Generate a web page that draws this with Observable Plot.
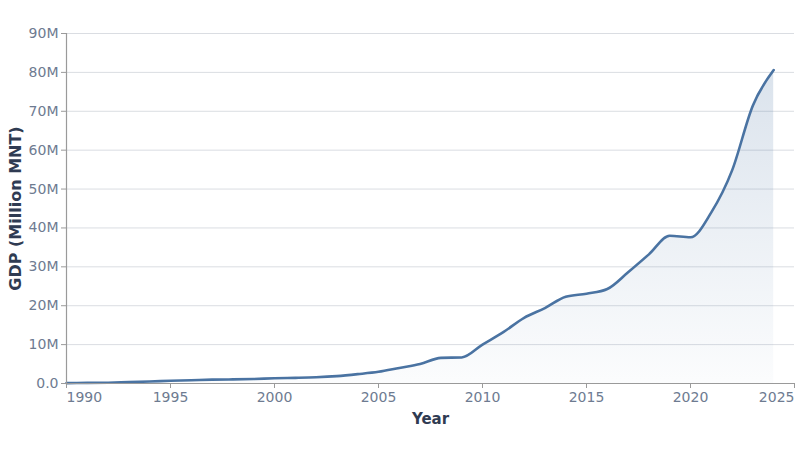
<!DOCTYPE html>
<html>
<head>
<meta charset="utf-8">
<script src="https://cdn.jsdelivr.net/npm/d3@7"></script>
<script src="https://cdn.jsdelivr.net/npm/@observablehq/plot@0.6"></script>
<style>
  html, body { margin: 0; padding: 0; background: #fff; }
  #chart svg { font-family: "DejaVu Sans", sans-serif; }
</style>
</head>
<body>
<div id="chart"></div>
<script>
const years = [1990,1991,1992,1993,1994,1995,1996,1997,1998,1999,2000,2001,2002,2003,2004,2005,2006,2007,2008,2009,2010,2011,2012,2013,2014,2015,2016,2017,2018,2019,2020,2021,2022,2023,2024];
// GDP in million MNT, expressed in millions (M)
const gdpM = [0.1,0.15,0.2,0.35,0.5,0.7,0.85,1.0,1.05,1.15,1.35,1.45,1.6,1.9,2.4,3.0,4.0,5.0,6.6,6.7,10.0,13.2,16.9,19.4,22.3,23.1,24.3,28.6,33.2,38.0,37.6,44.0,54.8,71.5,80.6];
const yTicks = [0,10,20,30,40,50,60,70,80,90];
const xTicksInner = [1995,2000,2005,2010,2015,2020];
const xLabel = "Year";
const yLabel = "GDP (Million MNT)";

const data = years.map((y, i) => ({year: y, gdp: gdpM[i]}));
const fmtY = d => d === 0 ? "0.0" : d + "M";
const tickColor = "#6e7b91";

const plot = Plot.plot({
  width: 800,
  height: 450,
  marginTop: 33,
  marginBottom: 67,
  marginLeft: 66,
  marginRight: 6,
  style: {fontFamily: "DejaVu Sans, sans-serif", fontSize: "14px", background: "#fff"},
  x: {domain: [1990, 2025], axis: null},
  y: {domain: [0, 90], axis: null},
  marks: [
    Plot.gridY(yTicks, {stroke: "#dadde2", strokeOpacity: 1}),
    Plot.areaY(data, {x: "year", y: "gdp", curve: "monotone-x", fill: "url(#gdpGrad)"}),
    Plot.lineY(data, {x: "year", y: "gdp", curve: "monotone-x", stroke: "#4a73a2", strokeWidth: 2.6}),
    Plot.ruleX([1990], {stroke: "#9a9a9a", strokeWidth: 1.2}),
    Plot.ruleY([0], {stroke: "#9a9a9a", strokeWidth: 1.2}),
    Plot.axisY(yTicks, {tickFormat: fmtY, tickSize: 5, tickPadding: 3, stroke: "#9a9a9a", fill: tickColor, label: null}),
    Plot.axisX(xTicksInner, {tickFormat: "d", tickSize: 5, tickPadding: 4, stroke: "#9a9a9a", fill: tickColor, label: null}),
    Plot.axisX([1990], {tickFormat: "d", tickSize: 5, tickPadding: 4, stroke: "#9a9a9a", fill: tickColor, textAnchor: "start", label: null}),
    Plot.axisX([2025], {tickFormat: "d", tickSize: 5, tickPadding: 4, stroke: "#9a9a9a", fill: tickColor, textAnchor: "end", label: null}),
    Plot.text([xLabel], {frameAnchor: "bottom", dy: 40, fontWeight: "bold", fontSize: 15, fill: "#2f3b52"}),
    Plot.text([yLabel], {frameAnchor: "left", textAnchor: "middle", rotate: -90, dx: -51, fontWeight: "bold", fontSize: 16, fill: "#2f3b52"})
  ]
});

const svg = d3.select(plot);
const defs = svg.insert("defs", ":first-child");
const grad = defs.append("linearGradient").attr("id", "gdpGrad").attr("x1", 0).attr("y1", 0).attr("x2", 0).attr("y2", 1);
grad.append("stop").attr("offset", "0%").attr("stop-color", "#4a73a2").attr("stop-opacity", 0.2);
grad.append("stop").attr("offset", "100%").attr("stop-color", "#4a73a2").attr("stop-opacity", 0.02);

document.getElementById("chart").appendChild(plot);
</script>
</body>
</html>
